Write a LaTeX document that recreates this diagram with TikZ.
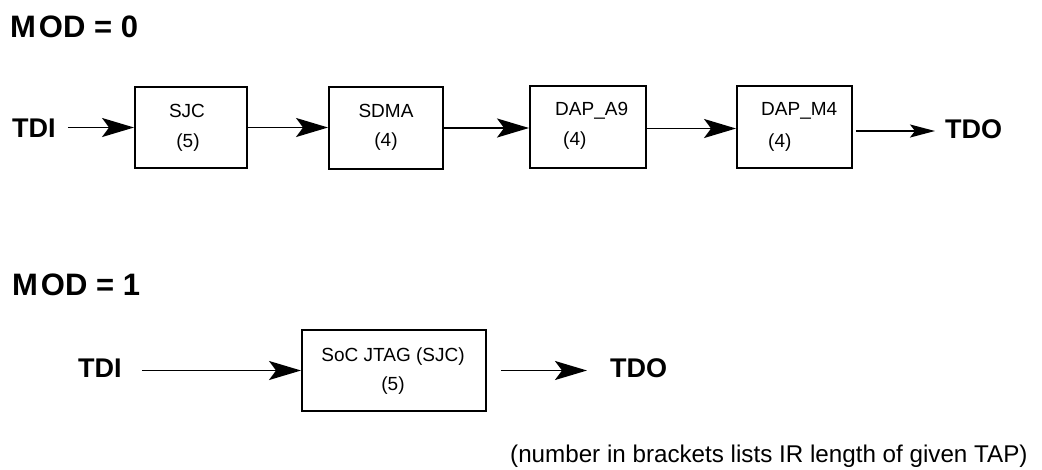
\documentclass[tikz,border=0pt]{standalone}
\usepackage{fontspec}
\setmainfont{Liberation Sans}
\usetikzlibrary{arrows.meta}
\begin{document}
\begin{tikzpicture}[x=1pt,y=-1pt,
  box/.style={draw, line width=1.9pt, rectangle, inner sep=0pt},
  lbl/.style={font=\fontsize{27}{30}\selectfont\bfseries, inner sep=0pt, anchor=base west},
  headline/.style={font=\fontsize{31}{34}\selectfont\bfseries, inner sep=0pt, anchor=base west},
  boxtext/.style={font=\fontsize{19}{21}\selectfont, inner sep=0pt, anchor=base},
  boxtextl/.style={font=\fontsize{19}{21}\selectfont, inner sep=0pt, anchor=base west},
  note/.style={font=\fontsize{24.2}{27}\selectfont, inner sep=0pt, anchor=base west},
  arr/.style={line width=1.9pt, -{Stealth[length=32pt,width=19pt,inset=7pt]}},
  arrsmall/.style={line width=1.9pt, -{Stealth[length=25pt,width=13pt,inset=5pt]}}]
\useasboundingbox (0,0) rectangle (1042,469);

% ---- MOD = 0 ----
\node[headline] (mod0) at (10,37) {M\kern3pt OD = 0};
\node[lbl] (tdi1) at (12,137) {TDI};

\node[box, minimum width=112pt, minimum height=81pt] (sjc) at (191,127.5) {};
\node[boxtext] (sjcname) at (187,117) {SJC};
\node[boxtext] (sjcir) at (188,147) {(5)};

\node[box, minimum width=114pt, minimum height=82pt] (sdma) at (386,128) {};
\node[boxtext] (sdmaname) at (386,117) {SDMA};
\node[boxtext] (sdmair) at (386,146) {(4)};

\node[box, minimum width=116pt, minimum height=82pt] (dapa) at (588,127) {};
\node[boxtextl] (dapaname) at (555,115) {DAP\_A9};
\node[boxtextl] (dapair) at (563,145) {(4)};

\node[box, minimum width=115pt, minimum height=82pt] (dapm) at (794.5,127) {};
\node[boxtextl] (dapmname) at (761,115) {DAP\_M4};
\node[boxtextl] (dapmir) at (768,147) {(4)};

\node[lbl] (tdo1) at (945,138) {TDO};

\draw[arr] ([xshift=12pt]tdi1.east |- sjc.west) -- (sjc.west);
\draw[arr] (sjc.east) -- (sdma.west |- sjc.east);
\draw[arr] (sdma.east) -- (dapa.west |- sdma.east);
\draw[arr] ([yshift=-1.5pt]dapa.east) -- ([yshift=-1.5pt]dapm.west);
\coordinate (m4out) at ([xshift=3pt,yshift=-4pt]dapm.east);
\draw[arrsmall] (m4out) -- ([xshift=-10pt]tdo1.west |- m4out);

% ---- MOD = 1 ----
\node[headline] (mod1) at (12,295) {M\kern3pt OD = 1};
\node[lbl] (tdi2) at (78,377) {TDI};

\node[box, minimum width=184pt, minimum height=81pt] (soc) at (394,370.5) {};
\node[boxtext] (socname) at (393,361) {SoC JTAG (SJC)};
\node[boxtext] (socir) at (393,390) {(5)};

\node[lbl] (tdo2) at (610,377) {TDO};

\draw[arr] ([xshift=20pt]tdi2.east |- soc.west) -- (soc.west);
\coordinate (socout) at ([xshift=14pt]soc.east);
\draw[arr] (socout) -- ([xshift=-23pt]tdo2.west |- socout);

\node[note] (footnote) at (510,462) {(number in brackets lists IR length of given TAP)};
\end{tikzpicture}
\end{document}
